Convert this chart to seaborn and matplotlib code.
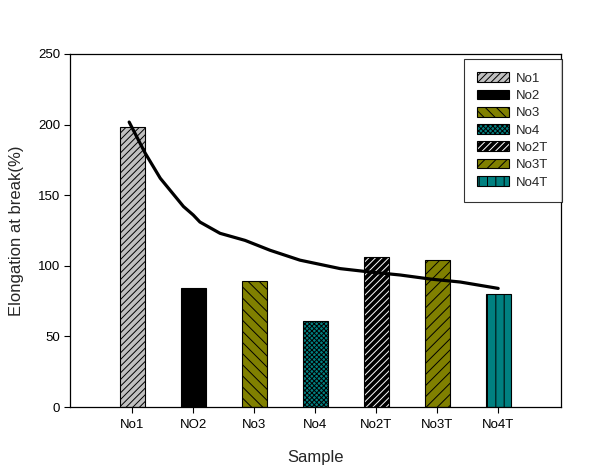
import matplotlib

matplotlib.use("Agg")

import matplotlib.pyplot as plt
import pandas as pd
import seaborn as sns
from matplotlib.patches import Patch


# bar data
SAMPLES = ["No1", "NO2", "No3", "No4", "No2T", "No3T", "No4T"]
LEGEND_LABELS = ["No1", "No2", "No3", "No4", "No2T", "No3T", "No4T"]
ELONGATION = [198, 84, 89, 61, 106, 104, 80]

# trend curve, sampled along the drawn line
CURVE_X = [-0.05, 0.21, 0.46, 0.84, 1.0, 1.11, 1.44, 1.85, 2.26, 2.75, 3.41, 3.90, 4.39, 4.89, 5.38, 6.0]
CURVE_Y = [201.8, 180, 162, 142, 136, 131, 123, 118, 111, 104, 98, 95.6, 93.5, 90.6, 88.5, 84]

FILLS = ["#C0C0C0", "#000000", "#808000", "#008080", "#000000", "#808000", "#008080"]
HATCHES = ["/////", None, "\\\\\\", "xxxxxxx", "/////", "///", "||"]
HATCH_COLORS = ["black", "black", "black", "black", "white", "black", "black"]


def style_patch(p, i):
    if HATCHES[i]:
        p.set_hatch(HATCHES[i])
    p._hatch_color = matplotlib.colors.to_rgba(HATCH_COLORS[i])


def main() -> None:
    sns.set_theme(style="ticks")
    plt.rcParams["font.family"] = ["Liberation Sans", "DejaVu Sans"]
    plt.rcParams["hatch.linewidth"] = 0.7

    df = pd.DataFrame({"sample": SAMPLES, "value": ELONGATION})

    fig = plt.figure(figsize=(5.9, 4.7), dpi=100)
    ax = fig.add_axes([70 / 590, 63 / 470, 491 / 590, 353 / 470])

    sns.barplot(
        data=df,
        x="sample",
        y="value",
        hue="sample",
        palette=FILLS,
        order=SAMPLES,
        hue_order=SAMPLES,
        width=0.41,
        edgecolor="black",
        linewidth=0.8,
        legend=False,
        saturation=1,
        ax=ax,
    )
    for i, p in enumerate(ax.patches):
        style_patch(p, i)

    ax.plot(CURVE_X, CURVE_Y, color="black", linewidth=2.3, solid_capstyle="round", zorder=5)

    ax.set_xlim(-1.02, 7.03)
    ax.set_ylim(0, 250)
    ax.set_yticks([0, 50, 100, 150, 200, 250])
    ax.tick_params(axis="both", direction="out", length=4, width=0.8, labelsize=9.5,
                   colors="black", pad=3, top=False, right=False)
    ax.tick_params(axis="x", pad=5)
    for s in ax.spines.values():
        s.set_linewidth(0.9)
        s.set_color("black")

    ax.set_xlabel("Sample", fontsize=12, labelpad=13)
    ax.set_ylabel("Elongation at break(%)", fontsize=12, labelpad=10)

    handles = []
    for i, lab in enumerate(LEGEND_LABELS):
        h = Patch(facecolor=FILLS[i], edgecolor="black", linewidth=0.8, label=lab)
        style_patch(h, i)
        handles.append(h)
    leg = ax.legend(
        handles=handles,
        loc="upper left",
        bbox_to_anchor=(0.8024, 0.9858),
        fontsize=9.5,
        frameon=True,
        fancybox=False,
        edgecolor="black",
        handlelength=2.4,
        handleheight=0.75,
        handletextpad=0.55,
        labelspacing=0.37,
        borderpad=1.0,
        borderaxespad=0,
    )
    leg.get_frame().set_linewidth(0.8)

    fig.savefig("out.png", dpi=100)
    plt.close(fig)


if __name__ == "__main__":
    main()
